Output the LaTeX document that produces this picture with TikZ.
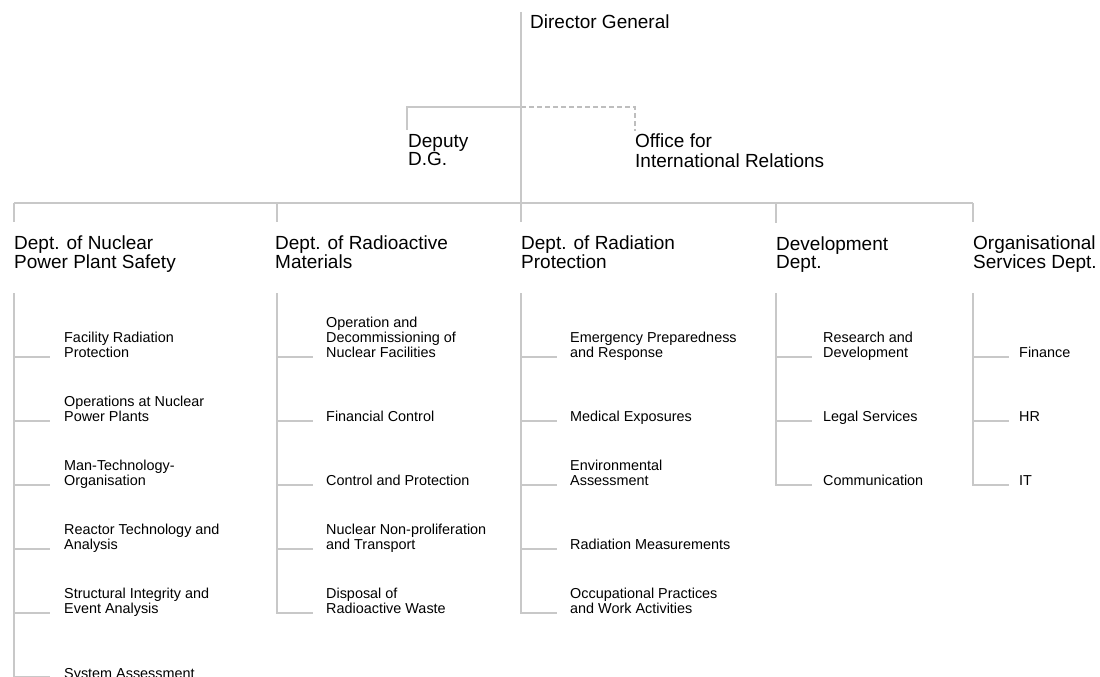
\documentclass[tikz,border=0pt]{standalone}
\usepackage{fontspec}
\setmainfont{Liberation Sans}
\usepackage{tikz}
\usetikzlibrary{positioning,calc}

\definecolor{linegrey}{RGB}{200,200,200}
\definecolor{dashgrey}{RGB}{190,190,190}

\tikzset{
  link/.style={draw=linegrey, line width=1.6pt},
  dashlink/.style={draw=dashgrey, line width=1.6pt, dash pattern=on 5pt off 3pt},
  head/.style={anchor=base west, align=left, inner sep=0pt, font=\fontsize{19}{17.7}\selectfont},
  unit/.style={anchor=base west, align=left, inner sep=0pt, font=\fontsize{14.4}{15}\selectfont}
}

\begin{document}
\begin{tikzpicture}[x=1pt, y=-1pt]
    \useasboundingbox (0,0) rectangle (1100,677);

    % Director General and staff units
    \node[head] (dg) at (530,28.5) {Director General};
    \node[head] (dgd) at (408,165.5) {Deputy\\D.G.};
    \node[head] (oir) at (635,167.5) {Office for\\[2.5pt]International Relations};
    \coordinate (top) at (521,12);
    \coordinate (dep) at (521,107);
    \draw[link] (dep) -| ([xshift=-1pt,yshift=4.5pt]dgd.north west);
    \draw[dashlink] (dep) -| ([yshift=2pt]oir.north west);

    % Departments
    \node[head] (nps) at (14,268) {Dept. of Nuclear\\Power Plant Safety};
    \node[head] (ram) at (275,268) {Dept. of Radioactive\\Materials};
    \node[head] (rpr) at (521,268) {Dept. of Radiation\\Protection};
    \node[head] (dev) at (776,268) {Development\\Dept.};
    \node[head] (osd) at (973,268) {Organisational\\Services Dept.};

    \coordinate (j1) at (14,203);
    \coordinate (j2) at (277,203);
    \coordinate (j3) at (521,203);
    \coordinate (j4) at (776,203);
    \coordinate (j5) at (973,203);
    \draw[link] (j1) -- (j5);
    \draw[link] (top) -- ([yshift=13pt]j3 |- rpr.north);
    \foreach \j/\n in {j1/nps,j2/ram,j4/dev,j5/osd}
        \draw[link] (\j) -- ([yshift=13pt]\j |- \n.north);

    % Spines and ticks
    \foreach \x/\e in {14/677,277/613,521/613,776/485,973/485}
        \draw[link] (\x,293) |- (\x+36,\e);
    \foreach \x/\ys in {14/{357,421,485,549,613},277/{357,421,485,549},521/{357,421,485,549},776/{357,421},973/{357,421}}
        \foreach \y in \ys \draw[link] (\x,\y) -- ++(36,0);

    % Dept. of Nuclear Power Plant Safety
    \node[unit] (frp) at (64,357) {Facility Radiation\\Protection};
    \node[unit] (onp) at (64,421) {Operations at Nuclear\\Power Plants};
    \node[unit] (mto) at (64,485) {Man-Technology-\\Organisation};
    \node[unit] (rta) at (64,549) {Reactor Technology and\\Analysis};
    \node[unit] (sie) at (64,613) {Structural Integrity and\\Event Analysis};
    \node[unit] (sas) at (64,678) {System Assessment};

    % Dept. of Radioactive Materials
    \node[unit] (odn) at (326,357) {Operation and\\Decommissioning of\\Nuclear Facilities};
    \node[unit] (fco) at (326,421.5) {Financial Control};
    \node[unit] (cpr) at (326,485.5) {Control and Protection};
    \node[unit] (nnp) at (326,549) {Nuclear Non-proliferation\\and Transport};
    \node[unit] (drw) at (326,613) {Disposal of\\Radioactive Waste};

    % Dept. of Radiation Protection
    \node[unit] (epr) at (570,357) {Emergency Preparedness\\and Response};
    \node[unit] (mex) at (570,421.5) {Medical Exposures};
    \node[unit] (eas) at (570,485) {Environmental\\Assessment};
    \node[unit] (rme) at (570,549.5) {Radiation Measurements};
    \node[unit] (opw) at (570,613) {Occupational Practices\\and Work Activities};

    % Development Dept.
    \node[unit] (rad) at (823,357) {Research and\\Development};
    \node[unit] (lse) at (823,421.5) {Legal Services};
    \node[unit] (com) at (823,485.5) {Communication};

    % Organisational Services Dept.
    \node[unit] (fin) at (1019,357.5) {Finance};
    \node[unit] (hr) at (1019,421.5) {HR};
    \node[unit] (it) at (1019,485.5) {IT};
\end{tikzpicture}
\end{document}
